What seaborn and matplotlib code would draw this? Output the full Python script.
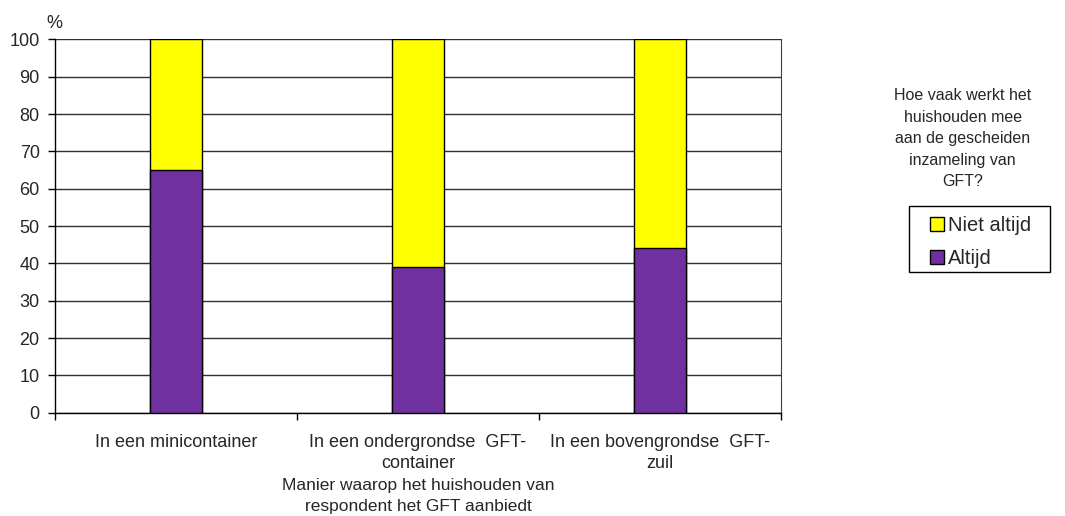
import pandas as pd
import seaborn as sns
import matplotlib.pyplot as plt
from matplotlib.patches import Patch, Rectangle
from matplotlib.ticker import FixedLocator

# values (percent)
categories = ['In een minicontainer', 'In een ondergrondse  GFT-\ncontainer', 'In een bovengrondse  GFT-\nzuil']
altijd = [65, 39, 44]
niet_altijd = [35, 61, 56]
series_labels = ['Niet altijd', 'Altijd']
y_ticks = list(range(0, 101, 10))

purple = '#7030A0'
yellow = '#FFFF00'

df = pd.DataFrame({'cat': categories, 'altijd': altijd, 'niet_altijd': niet_altijd})
df['totaal'] = df['altijd'] + df['niet_altijd']

sns.set_style('white')
plt.rcParams['font.family'] = ['Liberation Sans', 'DejaVu Sans']

fig = plt.figure(figsize=(10.65, 5.16), dpi=100)
ax = fig.add_axes([0.0516, 0.200, 0.6817, 0.7238])

# stacked bars: full height yellow first, purple part drawn over it
sns.barplot(data=df, x='cat', y='totaal', color=yellow, width=0.212,
            edgecolor='black', linewidth=1, saturation=1, ax=ax, zorder=3)
sns.barplot(data=df, x='cat', y='altijd', color=purple, width=0.212,
            edgecolor='black', linewidth=1, saturation=1, ax=ax, zorder=4)

ax.set_xlim(-0.5, 2.5)
ax.set_ylim(0, 100)
ax.set_yticks(y_ticks)
ax.yaxis.grid(True, color='#303030', linewidth=1, zorder=0)
ax.tick_params(axis='y', direction='out', length=5, width=1, color='black',
               labelsize=13, left=True, pad=6)
ax.tick_params(axis='x', which='major', length=0, labelsize=13, pad=15)
ax.xaxis.set_minor_locator(FixedLocator([-0.5, 0.5, 1.5, 2.5]))
ax.tick_params(axis='x', which='minor', direction='out', length=5, width=1,
               color='black', bottom=True)
for lbl in ax.get_xticklabels():
    lbl.set_multialignment('center')
    lbl.set_linespacing(1.35)

for side in ['left', 'bottom']:
    ax.spines[side].set_color('black')
    ax.spines[side].set_linewidth(1)
ax.spines['right'].set_color('#404040')
ax.spines['top'].set_visible(False)

ax.set_ylabel('')
ax.set_xlabel('Manier waarop het huishouden van\nrespondent het GFT aanbiedt',
              fontsize=12.5, labelpad=4, linespacing=1.55)
fig.text(0.051, 0.955, '%', fontsize=13, ha='center', va='center')

# legend title above the box, as in the original
fig.text(0.904, 0.633,
         'Hoe vaak werkt het\nhuishouden mee\naan de gescheiden\ninzameling van\nGFT?',
         fontsize=11.5, ha='center', va='bottom', linespacing=1.55)
handles = [Patch(facecolor=yellow, edgecolor='black', linewidth=1),
           Patch(facecolor=purple, edgecolor='black', linewidth=1)]
leg = fig.legend(handles, series_labels, loc='upper left',
                 bbox_to_anchor=(930 / 1065, 1 - 216 / 516), fontsize=14.5,
                 frameon=False, handlelength=0.7, handleheight=0.7,
                 handletextpad=0.2, labelspacing=0.68, borderpad=0,
                 borderaxespad=0)
# legend frame drawn separately so it can be wider than the entries
fig.patches.append(Rectangle((909 / 1065, 1 - 272 / 516), 141 / 1065, 66 / 516,
                             transform=fig.transFigure, fill=False,
                             edgecolor='black', linewidth=1))

fig.savefig('out.png', dpi=100)
